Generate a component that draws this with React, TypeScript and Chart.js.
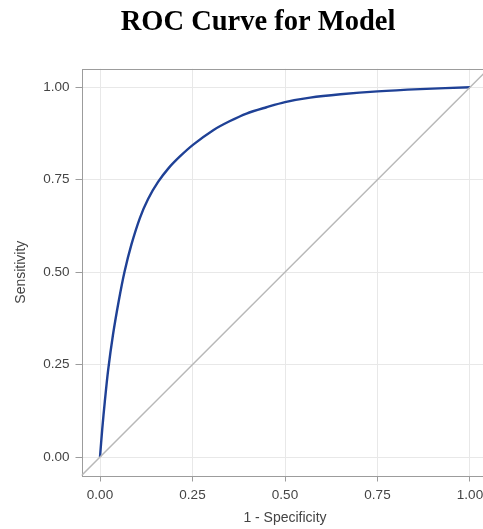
import React, { useEffect, useRef } from "react";
import { Chart, registerables } from "chart.js";

Chart.register(...registerables);

const rocFpr = [0, 0.006, 0.013, 0.022, 0.035, 0.051, 0.066, 0.085, 0.108, 0.13, 0.157, 0.186, 0.216, 0.252, 0.306, 0.35, 0.396, 0.45, 0.5, 0.568, 0.65, 0.75, 0.865, 1.0];
const rocTpr = [0, 0.075, 0.15, 0.235, 0.33, 0.424, 0.5, 0.575, 0.647, 0.698, 0.744, 0.782, 0.813, 0.845, 0.884, 0.908, 0.929, 0.946, 0.96, 0.972, 0.981, 0.989, 0.995, 1.0];
const diagX = [-0.1, 1.1];
const diagY = [-0.1, 1.1];
const tickValues = [0, 0.25, 0.5, 0.75, 1.0];
const tickLabels = ["0.00", "0.25", "0.50", "0.75", "1.00"];

const frameColor = "#9c9c9c";
const gridColor = "#e8e8e8";

const framePlugin = {
  id: "frame",
  beforeDatasetsDraw(chart: any) {
    const { ctx, chartArea } = chart;
    ctx.save();
    ctx.strokeStyle = frameColor;
    ctx.lineWidth = 1;
    ctx.strokeRect(
      Math.round(chartArea.left) + 0.5,
      Math.round(chartArea.top) + 0.5,
      Math.round(chartArea.right - chartArea.left),
      Math.round(chartArea.bottom - chartArea.top)
    );
    ctx.restore();
  },
};

export default function App() {
  const ref = useRef<HTMLCanvasElement>(null);
  useEffect(() => {
    document.body.style.margin = "0";
    document.body.style.overflow = "hidden";
    const fixedTicks = (scale: any) => {
      scale.ticks = tickValues.map((v) => ({ value: v }));
    };
    const tickFont = { family: "'Liberation Sans', Arial, sans-serif", size: 13.5 };
    const titleFont = { family: "'Liberation Sans', Arial, sans-serif", size: 14 };
    const chart = new Chart(ref.current!, {
      type: "line",
      data: {
        datasets: [
          {
            label: "Diagonal",
            data: diagX.map((x, i) => ({ x, y: diagY[i] })),
            borderColor: "#b8b8b8",
            borderWidth: 1.5,
            pointRadius: 0,
            fill: false,
          },
          {
            label: "ROC",
            data: rocFpr.map((x, i) => ({ x, y: rocTpr[i] })),
            borderColor: "#1f4196",
            borderWidth: 2.4,
            pointRadius: 0,
            tension: 0.3,
            fill: false,
          },
        ],
      },
      options: {
        animation: false,
        responsive: false,
        devicePixelRatio: 1,
        layout: { padding: 0 },
        plugins: {
          legend: { display: false },
          tooltip: { enabled: false },
          title: {
            display: true,
            text: "ROC Curve for Model",
            color: "#000",
            font: { family: "'Liberation Serif', 'Times New Roman', serif", size: 28.5, weight: "bold" },
            padding: { top: 6, bottom: 28.6 },
          },
        },
        scales: {
          x: {
            type: "linear",
            min: -0.05,
            max: 1.05,
            afterBuildTicks: fixedTicks,
            afterFit: (s: any) => {
              s.height = 53.5;
            },
            grid: { color: gridColor, tickColor: frameColor, tickLength: 6, drawTicks: true },
            border: { display: false },
            ticks: {
              padding: 6,
              color: "#444",
              font: tickFont,
              maxRotation: 0,
              callback: (v: any) => tickLabels[tickValues.indexOf(Number(v))] ?? "",
            },
            title: {
              display: true,
              text: "1 - Specificity",
              color: "#444",
              font: titleFont,
              padding: { top: 2, bottom: 2 },
            },
          },
          y: {
            type: "linear",
            min: -0.05,
            max: 1.05,
            afterBuildTicks: fixedTicks,
            afterFit: (s: any) => {
              s.width = 81.5;
            },
            grid: { color: gridColor, tickColor: frameColor, tickLength: 6, drawTicks: true },
            border: { display: false },
            ticks: {
              padding: 6,
              color: "#444",
              font: tickFont,
              callback: (v: any) => tickLabels[tickValues.indexOf(Number(v))] ?? "",
            },
            title: {
              display: true,
              text: "Sensitivity",
              color: "#444",
              font: titleFont,
              padding: { top: 13, bottom: 0 },
            },
          },
          y2: {
            type: "linear",
            position: "right",
            display: true,
            afterFit: (s: any) => {
              s.width = 27.5;
            },
            grid: { display: false, drawTicks: false },
            border: { display: false },
            ticks: { display: false },
          },
        },
      },
      plugins: [framePlugin],
    });
    return () => chart.destroy();
  }, []);
  return (
    <div style={{ position: "fixed", left: 0, top: 0, width: 516, height: 529 }}>
      <canvas ref={ref} width={516} height={529} style={{ width: 516, height: 529 }} />
    </div>
  );
}
